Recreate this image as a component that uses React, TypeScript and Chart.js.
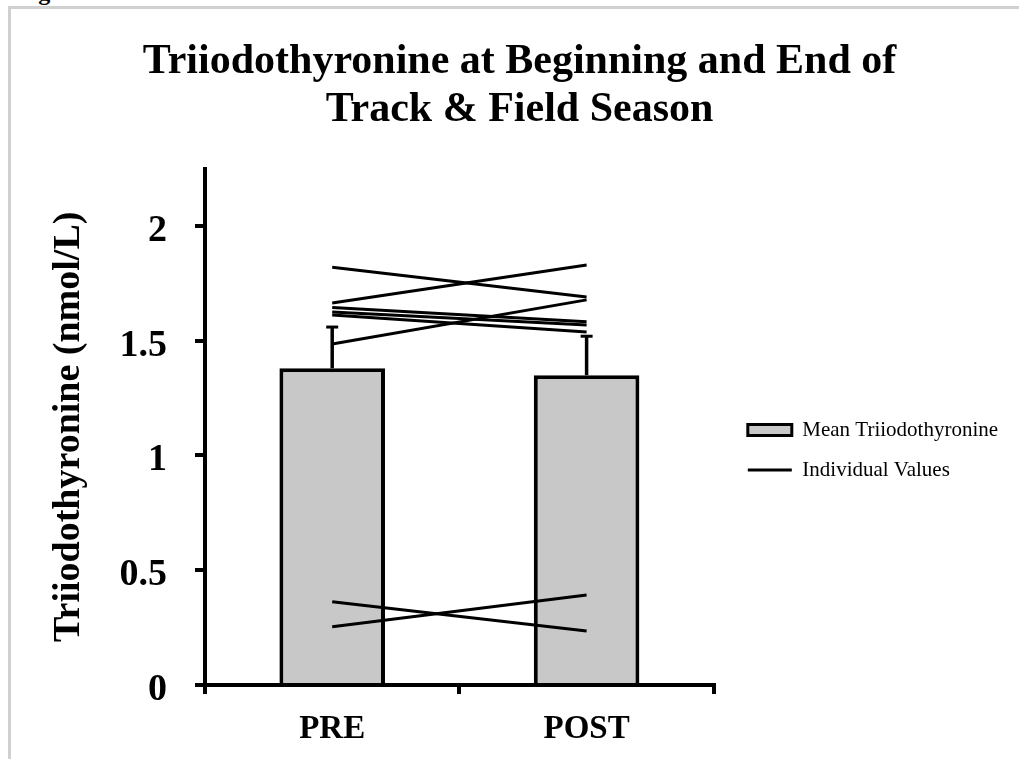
import React, { useEffect, useRef } from "react";
import { Chart, registerables } from "chart.js";

Chart.register(...registerables);

// ---- data ----
const categories = ["PRE", "POST"];
const meanValues = [1.38, 1.35];
const sdValues = [0.184, 0.174];
const individualPre = [1.82, 1.664, 1.486, 1.645, 1.625, 1.612, 0.363, 0.254];
const individualPost = [1.691, 1.83, 1.678, 1.583, 1.569, 1.538, 0.235, 0.392];
const yMin = 0;
const yMax = 2.25;
const yStep = 0.5;
const titleLines = ["Triiodothyronine at Beginning and End of", "Track & Field Season"];
const yAxisTitle = "Triiodothyronine (nmol/L)";
const legendLabels = ["Mean Triiodothyronine", "Individual Values"];

const SERIF = "'Liberation Serif', 'Times New Roman', serif";
const BAR_FILL = "#c8c8c8";

const errorBarPlugin = {
  id: "errorBars",
  afterDatasetDraw(chart: any, args: any) {
    if (args.index !== 0) return;
    const meta = chart.getDatasetMeta(0);
    const yScale = chart.scales.y;
    const ctx = chart.ctx;
    ctx.save();
    ctx.strokeStyle = "#000";
    meta.data.forEach((bar: any, i: number) => {
      const x = bar.x;
      const yBase = yScale.getPixelForValue(meanValues[i]);
      const yTop = yScale.getPixelForValue(meanValues[i] + sdValues[i]);
      ctx.lineWidth = 3.5;
      ctx.beginPath();
      ctx.moveTo(x, yBase);
      ctx.lineTo(x, yTop);
      ctx.stroke();
      ctx.lineWidth = 3;
      ctx.beginPath();
      ctx.moveTo(x - 6, yTop + 1);
      ctx.lineTo(x + 6, yTop + 1);
      ctx.stroke();
    });
    ctx.restore();
  },
};

export default function App() {
  const canvasRef = useRef<HTMLCanvasElement>(null);

  useEffect(() => {
    const lineDatasets = individualPre.map((pre, i) => ({
      type: "line" as const,
      label: legendLabels[1],
      data: [pre, individualPost[i]],
      borderColor: "#000",
      backgroundColor: "#000",
      borderWidth: 3,
      pointRadius: 0,
      fill: false,
      tension: 0,
      order: 0,
    }));

    const chart = new Chart(canvasRef.current as HTMLCanvasElement, {
      type: "bar",
      data: {
        labels: categories,
        datasets: [
          {
            type: "bar",
            label: legendLabels[0],
            data: meanValues,
            backgroundColor: BAR_FILL,
            borderColor: "#000",
            borderWidth: 4,
            barPercentage: 0.415,
            categoryPercentage: 1,
            order: 1,
          } as any,
          ...lineDatasets,
        ],
      },
      options: {
        responsive: false,
        animation: false,
        events: [],
        layout: { padding: { left: 31, right: 10.9, top: 0, bottom: 0 } },
        plugins: {
          tooltip: { enabled: false },
          title: {
            display: true,
            text: titleLines,
            color: "#000",
            font: { family: SERIF, weight: "bold", size: 42, lineHeight: 48 / 42 },
            padding: { top: 38, bottom: 34.6 },
          },
          legend: {
            display: true,
            position: "right",
            align: "center",
            fullSize: false,
            maxWidth: 400,
            title: {
              display: true,
              text: "",
              font: { size: 10, lineHeight: 1 },
              padding: { top: 36.4, bottom: 0 },
            },
            labels: {
              usePointStyle: true,
              pointStyleWidth: 44,
              boxHeight: 11,
              padding: 19,
              color: "#000",
              font: { family: SERIF, size: 21 },
              generateLabels: () => [
                {
                  text: legendLabels[0],
                  fillStyle: BAR_FILL,
                  strokeStyle: "#000",
                  fontColor: "#000",
                  lineWidth: 3,
                  pointStyle: "rect",
                  hidden: false,
                  datasetIndex: 0,
                },
                {
                  text: legendLabels[1],
                  fillStyle: "#000",
                  strokeStyle: "#000",
                  fontColor: "#000",
                  lineWidth: 3,
                  pointStyle: "line",
                  hidden: false,
                  datasetIndex: 1,
                },
              ],
            },
          },
        },
        scales: {
          x: {
            type: "category",
            offset: true,
            grid: {
              offset: true,
              drawOnChartArea: false,
              drawTicks: true,
              tickLength: 9,
              lineWidth: 4,
              color: "#000",
              tickColor: "#000",
            },
            border: { display: true, color: "#000", width: 4 },
            ticks: {
              color: "#000",
              font: { family: SERIF, weight: "bold", size: 33 },
              padding: 15.2,
              maxRotation: 0,
            },
            afterFit: (s: any) => {
              s.height = 74;
            },
          },
          y: {
            type: "linear",
            position: "left",
            min: yMin,
            max: yMax,
            ticks: {
              stepSize: yStep,
              includeBounds: false,
              color: "#000",
              font: { family: SERIF, weight: "bold", size: 38 },
              padding: 28,
              labelOffset: 5,
              callback: (v: any) => String(v),
            },
            grid: {
              drawOnChartArea: false,
              tickLength: 10,
              lineWidth: 4,
              color: "#000",
              tickColor: "#000",
            },
            border: { display: true, color: "#000", width: 4 },
            title: {
              display: true,
              text: yAxisTitle,
              color: "#000",
              font: { family: SERIF, weight: "bold", size: 38 },
              padding: { top: 15.2, bottom: 0 },
            },
            afterFit: (s: any) => {
              s.width = 174;
            },
          },
          ySpacer: {
            type: "linear",
            position: "right",
            display: true,
            grid: { display: false },
            ticks: { display: false },
            border: { display: false },
            afterFit: (s: any) => {
              s.width = 15;
            },
          },
        },
      } as any,
      plugins: [errorBarPlugin],
    });
    return () => chart.destroy();
  }, []);

  return (
    <div
      style={{
        position: "absolute",
        left: 0,
        top: 0,
        width: 1019,
        height: 759,
        overflow: "hidden",
        background: "#fff",
      }}
    >
      <div
        style={{
          position: "absolute",
          left: 8,
          top: 6,
          width: 1100,
          height: 900,
          borderTop: "3px solid #d0d0d0",
          borderLeft: "3px solid #d0d0d0",
        }}
      />
      <div
        style={{
          position: "absolute",
          left: 17,
          top: -20,
          fontFamily: SERIF,
          fontWeight: "bold",
          fontSize: 24,
          lineHeight: "24px",
          whiteSpace: "nowrap",
          color: "#000",
        }}
      >
        Figure
      </div>
      <canvas
        ref={canvasRef}
        width={1019}
        height={759}
        style={{ position: "absolute", left: 0, top: 0 }}
      />
    </div>
  );
}
